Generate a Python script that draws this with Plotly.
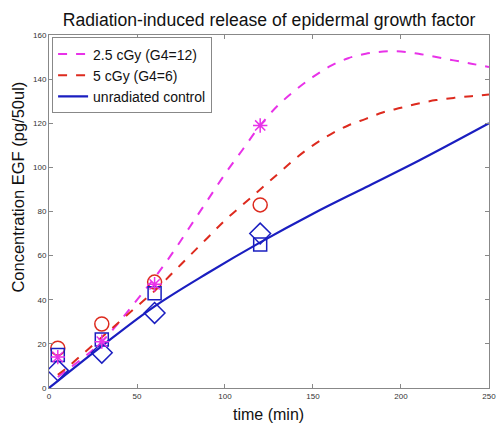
import plotly.graph_objects as go

# measured data points
t_obs = [5, 30, 60, 120]
ctrl_squares = [15, 22, 43, 65]
ctrl_diamonds = [8, 16, 34, 70]
gy5_circles = [18, 29, 48, 83]
gy25_stars = [14, 21, 47, 119]

# model curves
t_ctrl = [0, 30, 60, 90, 120, 150, 180, 210, 250]
ctrl_curve = [0, 19, 37, 52, 66, 79, 91, 103, 120]

t_model = [5, 10, 20, 30, 40, 50, 60, 70, 80, 90, 100, 110, 120, 130, 140, 150,
           160, 170, 180, 190, 200, 210, 220, 230, 240, 250]
gy5_curve = [6, 9, 16, 23, 30, 37, 44, 52, 60, 68, 76, 83, 90, 97, 104, 110,
             115, 119, 122, 125, 127, 129, 130.5, 131.5, 132.3, 133]
gy25_curve = [5, 8, 14, 21, 30, 40, 50, 61, 73, 85, 97, 108, 119, 128, 135, 141,
              146, 149.5, 151.5, 152.5, 152.5, 151.5, 150, 148.5, 147, 145.5]

x_ticks = [0, 50, 100, 150, 200, 250]
y_ticks = [0, 20, 40, 60, 80, 100, 120, 140, 160]

MAG = "#e832e8"
RED = "#dd2a1e"
BLUE = "#1a1ec0"
FONT = "Liberation Sans, Arial"

fig = go.Figure()
fig.add_trace(go.Scatter(x=t_model, y=gy25_curve, mode="lines", name="2.5 cGy (G4=12)",
                         line=dict(color=MAG, width=2, dash="dash", shape="spline")))
fig.add_trace(go.Scatter(x=t_model, y=gy5_curve, mode="lines", name="5 cGy (G4=6)",
                         line=dict(color=RED, width=2, dash="dash", shape="spline")))
fig.add_trace(go.Scatter(x=t_ctrl, y=ctrl_curve, mode="lines", name="unradiated control",
                         line=dict(color=BLUE, width=2.2, shape="spline")))

fig.add_trace(go.Scatter(x=t_obs, y=gy5_circles, mode="markers", showlegend=False,
                         marker=dict(symbol="circle-open", size=14, color=RED, line=dict(width=1.5))))
fig.add_trace(go.Scatter(x=t_obs, y=ctrl_diamonds, mode="markers", showlegend=False,
                         marker=dict(symbol="diamond-open", size=16, color=BLUE, line=dict(width=1.5))))
fig.add_trace(go.Scatter(x=t_obs, y=ctrl_squares, mode="markers", showlegend=False,
                         marker=dict(symbol="square-open", size=13, color=BLUE, line=dict(width=1.5))))
fig.add_trace(go.Scatter(x=t_obs, y=gy25_stars, mode="markers", showlegend=False,
                         marker=dict(symbol="asterisk-open", size=12, color=MAG, line=dict(width=1.5, color=MAG))))

axis_common = dict(showgrid=False, zeroline=False, showline=True, mirror="ticks",
                   linecolor="#888888", linewidth=1, ticks="inside", ticklen=4,
                   ticklabeloverflow="allow",
                   tickcolor="#888888", tickfont=dict(size=8, color="#333333", family=FONT))

fig.update_layout(
    width=503, height=423,
    margin=dict(l=49, r=7, t=35, b=35),
    paper_bgcolor="white", plot_bgcolor="white",
    title=dict(text="Radiation-induced release of epidermal growth factor",
               x=0.535, xanchor="center", y=0.953, yanchor="middle",
               font=dict(size=17.6, color="#111111", family=FONT)),
    xaxis=dict(range=[0, 250.01], tickvals=x_ticks, **axis_common),
    yaxis=dict(range=[0, 160.01], tickvals=y_ticks, **axis_common),
    legend=dict(x=0.007, y=0.993, xanchor="left", yanchor="top",
                bgcolor="white", bordercolor="#888888", borderwidth=1,
                font=dict(size=14, color="#111111", family=FONT),
                tracegroupgap=0, itemwidth=30),
    showlegend=True,
    annotations=[
        dict(text="time (min)", xref="paper", yref="paper", x=0.498, y=-0.0737,
             xanchor="center", yanchor="middle", showarrow=False,
             font=dict(size=16, color="#111111", family=FONT)),
        dict(text="Concentration EGF (pg/50ul)", xref="paper", yref="paper",
             x=-0.0694, y=0.569, xanchor="center", yanchor="middle", textangle=-90,
             showarrow=False, font=dict(size=16.5, color="#111111", family=FONT)),
    ],
)

fig.write_html("out.html", config={"displayModeBar": False},
               post_script="document.body.style.margin='0';document.body.style.overflow='hidden';")
